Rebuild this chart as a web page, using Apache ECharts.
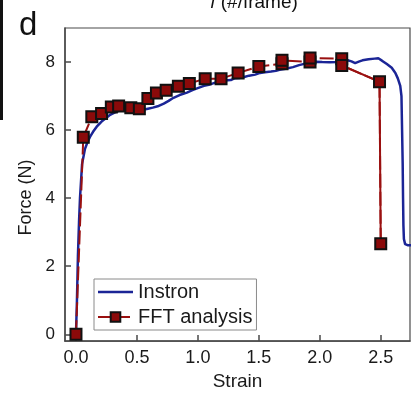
<!DOCTYPE html>
<html>
<head>
<meta charset="utf-8">
<script src="https://cdn.jsdelivr.net/npm/echarts@6/dist/echarts.min.js"></script>
<style>
  html, body { margin: 0; padding: 0; background: #fff; }
  #chart { width: 411px; height: 396px; }
</style>
</head>
<body>
<div id="chart"></div>
<script>
// Instron load-cell curve: strain vs force (N)
const instronStrain = [
  0, 0.008, 0.016, 0.025, 0.033, 0.05, 0.074, 0.095, 0.115, 0.14, 0.17, 0.21,
  0.25, 0.28, 0.32, 0.36, 0.40, 0.44, 0.48, 0.52, 0.55, 0.59, 0.63, 0.67,
  0.72, 0.76, 0.80, 0.85, 0.91, 0.96, 1.01, 1.05, 1.09, 1.13, 1.18, 1.22,
  1.27, 1.30, 1.34, 1.38, 1.42, 1.47, 1.51, 1.55, 1.60, 1.64, 1.67, 1.72,
  1.78, 1.83, 1.89, 1.94, 1.97, 2.02, 2.08, 2.14, 2.18, 2.22, 2.26, 2.29,
  2.32, 2.35, 2.40, 2.45, 2.48, 2.51, 2.55, 2.59, 2.62, 2.64, 2.66, 2.67,
  2.675, 2.68, 2.683, 2.686, 2.69, 2.70, 2.72, 2.76
];
const instronForce = [
  0, 1.0, 2.3, 3.3, 4.0, 5.0, 5.45, 5.65, 5.8, 5.95, 6.1, 6.25,
  6.36, 6.45, 6.52, 6.58, 6.63, 6.64, 6.62, 6.61, 6.60, 6.63, 6.66, 6.70,
  6.78, 6.86, 6.95, 7.03, 7.10, 7.18, 7.25, 7.30, 7.33, 7.38, 7.44, 7.46,
  7.47, 7.52, 7.53, 7.56, 7.60, 7.63, 7.68, 7.70, 7.72, 7.74, 7.77, 7.80,
  7.85, 7.91, 7.96, 8.00, 8.01, 8.00, 7.99, 8.00, 8.04, 8.06, 8.02, 7.97,
  8.01, 8.05, 8.08, 8.10, 8.11, 8.04, 7.94, 7.83, 7.68, 7.52, 7.30, 7.00,
  6.0, 5.0, 4.0, 3.2, 2.8, 2.65, 2.62, 2.62
];

// FFT analysis estimates
const fftStrain = [
  0, 0.06, 0.13, 0.21, 0.29, 0.35, 0.45, 0.52, 0.59, 0.66, 0.74, 0.84,
  0.93, 1.06, 1.19, 1.33, 1.50, 1.69, 1.69, 1.92, 1.92, 2.18, 2.18, 2.49, 2.50
];
const fftForce = [
  0, 5.79, 6.39, 6.49, 6.68, 6.71, 6.66, 6.63, 6.93, 7.09, 7.17, 7.29,
  7.37, 7.51, 7.51, 7.68, 7.87, 7.95, 8.05, 8.00, 8.12, 8.10, 7.90, 7.42, 2.66
];

// Axis tick labels
const strainTicks = [0, 0.5, 1.0, 1.5, 2.0, 2.5];
const forceTicks = [0, 2, 4, 6, 8];

const pairs = (xs, ys) => xs.map((x, i) => [x, ys[i]]);
const instronData = pairs(instronStrain, instronForce);
const fftData = pairs(fftStrain, fftForce);
// the final failure drop is drawn as a continuous segment
const fftDrop = fftData.slice(-3);

const chart = echarts.init(document.getElementById('chart'));
const txt = '#1a1a1a';
const axisCol = '#4a4a4a';
const blue = '#1b2596';
const red = '#9a1010';

chart.setOption({
  animation: false,
  backgroundColor: '#fff',
  textStyle: { fontFamily: 'Liberation Sans, Arial, sans-serif' },
  grid: {
    left: 65, right: 1, top: 28, bottom: 47,
    show: true, borderColor: axisCol, borderWidth: 1.2
  },
  xAxis: {
    type: 'value',
    min: -0.09, max: 2.74,
    name: 'Strain',
    nameLocation: 'middle',
    nameGap: 25,
    nameTextStyle: { fontSize: 19, color: txt },
    axisLine: { show: true, onZero: false, lineStyle: { color: axisCol, width: 1.5 } },
    axisTick: { show: true, inside: true, length: 6, customValues: strainTicks,
      lineStyle: { color: axisCol, width: 1.5 } },
    axisLabel: { customValues: strainTicks, fontSize: 18, color: txt, margin: 8,
      formatter: v => v.toFixed(1) },
    splitLine: { show: false }
  },
  yAxis: {
    type: 'value',
    min: -0.2, max: 9,
    name: 'Force (N)',
    nameLocation: 'middle',
    nameGap: 30,
    nameRotate: 90,
    nameTextStyle: { fontSize: 18, color: txt, padding: [0, 26, 0, 0] },
    axisLine: { show: true, onZero: false, lineStyle: { color: axisCol, width: 1.5 } },
    axisTick: { show: true, inside: true, length: 6, customValues: forceTicks,
      lineStyle: { color: axisCol, width: 1.5 } },
    axisLabel: { customValues: forceTicks, fontSize: 17, color: txt, margin: 10 },
    splitLine: { show: false }
  },
  legend: {
    orient: 'vertical',
    left: 94, top: 279,
    padding: [3, 4, 3, 3],
    itemGap: 5,
    itemWidth: 35,
    itemHeight: 12,
    borderColor: '#8a8a8a',
    borderWidth: 1,
    textStyle: { fontSize: 20, color: txt, lineHeight: 20 },
    data: [
      { name: 'Instron', icon: 'path://M0,0H35V2.5H0Z' },
      { name: 'FFT analysis' }
    ]
  },
  graphic: [
    { type: 'rect', shape: { x: 0, y: 0, width: 3, height: 120 },
      style: { fill: '#111' } },
    { type: 'text', x: 19, y: 26,
      style: { text: 'd', fontSize: 33, fill: '#111', verticalAlign: 'middle',
        fontFamily: 'Liberation Sans, Arial, sans-serif' } },
    { type: 'text', x: 254, y: 12,
      style: {
        text: '{i|f} (#/frame)',
        align: 'center', verticalAlign: 'bottom',
        fontSize: 19, fill: '#111',
        fontFamily: 'Liberation Sans, Arial, sans-serif',
        rich: { i: { fontStyle: 'italic', fontSize: 19, fill: '#111' } }
      } }
  ],
  series: [
    {
      name: 'Instron',
      type: 'line',
      data: instronData,
      symbol: 'none',
      lineStyle: { color: blue, width: 2.5 },
      itemStyle: { color: blue },
      z: 2
    },
    {
      name: 'FFT drop',
      type: 'line',
      data: fftDrop,
      symbol: 'none',
      lineStyle: { color: red, width: 2, type: 'solid' },
      z: 3,
      silent: true
    },
    {
      name: 'FFT analysis',
      type: 'line',
      data: fftData,
      symbol: 'rect',
      symbolSize: 11,
      lineStyle: { color: red, width: 2, type: [14, 4] },
      itemStyle: { color: '#8b0a0a', borderColor: '#111', borderWidth: 2 },
      z: 4
    }
  ]
});
</script>
</body>
</html>
